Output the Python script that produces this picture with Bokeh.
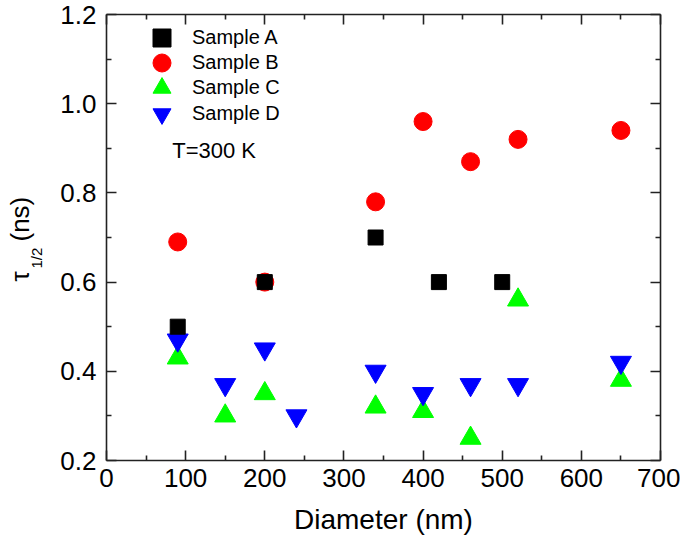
import math
from bokeh.plotting import figure
from bokeh.models import (Range1d, LinearAxis, Legend, LegendItem, Label,
                          FixedTicker, PrintfTickFormatter, CustomLabelingPolicy)
from bokeh.embed import file_html
from bokeh.resources import INLINE

# ---- data ----
a_x = [90, 200, 340, 420, 500]
a_y = [0.50, 0.60, 0.70, 0.60, 0.60]
b_x = [90, 200, 340, 400, 460, 520, 650]
b_y = [0.69, 0.60, 0.78, 0.96, 0.87, 0.92, 0.94]
c_x = [90, 150, 200, 340, 400, 460, 520, 650]
c_y = [0.43, 0.30, 0.35, 0.32, 0.31, 0.25, 0.56, 0.38]
d_x = [90, 150, 200, 240, 340, 400, 460, 520, 650]
d_y = [0.47, 0.37, 0.45, 0.30, 0.40, 0.35, 0.37, 0.37, 0.42]
series_names = ["Sample A", "Sample B", "Sample C", "Sample D"]
x_ticks = [0, 100, 200, 300, 400, 500, 600, 700]
y_ticks = [0.2, 0.4, 0.6, 0.8, 1.0, 1.2]
x_minor = [t + 50 for t in x_ticks[:-1]]
y_minor = [round(t + 0.1, 2) for t in y_ticks[:-1]]

FONT = "Liberation Sans"

# The drawing frame covers the whole canvas; the four axes are pinned at the
# data limits (fixed_location) so that titles and labels outside the box are
# not clipped.
X0, X1 = x_ticks[0], x_ticks[-1]
Y0, Y1 = y_ticks[0], y_ticks[-1]
W, H = 680, 538                 # canvas (= frame) size
BOX_L, BOX_R, BOX_T, BOX_B = 106, 660, 14, 460   # axes box in pixels
sx_ = (BOX_R - BOX_L) / (X1 - X0)
sy_ = (BOX_B - BOX_T) / (Y1 - Y0)
x_range = Range1d(X0 - BOX_L / sx_, X1 + (W - BOX_R) / sx_)
y_range = Range1d(Y0 - (H - BOX_B) / sy_, Y1 + BOX_T / sy_)

p = figure(frame_width=W, frame_height=H, x_range=x_range, y_range=y_range,
           output_backend="svg", toolbar_location=None,
           min_border_left=0, min_border_right=0, min_border_top=0,
           min_border_bottom=0, x_axis_label="Diameter (nm)")
p.grid.visible = False
p.outline_line_color = None
p.background_fill_color = "white"
p.border_fill_color = "white"

no_labels = CustomLabelingPolicy(
    code="for (let i = 0; i < indices.size; i++) { indices.unset(i) } return indices")
p.add_layout(LinearAxis(major_label_policy=no_labels), "above")
p.add_layout(LinearAxis(major_label_policy=no_labels), "right")

for ax in p.xaxis:
    ax.ticker = FixedTicker(ticks=x_ticks, minor_ticks=x_minor)
    ax.bounds = (X0, X1)
for ax in p.yaxis:
    ax.ticker = FixedTicker(ticks=y_ticks, minor_ticks=y_minor)
    ax.formatter = PrintfTickFormatter(format="%.1f")
    ax.bounds = (Y0, Y1)
p.below[0].fixed_location = Y0
p.above[0].fixed_location = Y1
p.left[0].fixed_location = X0
p.right[0].fixed_location = X1

for ax in p.axis:
    ax.axis_line_width = 1.6
    ax.axis_line_color = "#222222"
    ax.major_tick_in = 10
    ax.major_tick_out = 0
    ax.minor_tick_in = 5
    ax.minor_tick_out = 0
    ax.major_tick_line_width = 1.6
    ax.minor_tick_line_width = 1.6
    ax.major_tick_line_color = "#222222"
    ax.minor_tick_line_color = "#222222"
    ax.major_label_text_font = FONT
    ax.major_label_text_font_size = "26px"
    ax.major_label_text_color = "black"
    ax.axis_label_text_font = FONT
    ax.axis_label_text_font_size = "28px"
    ax.axis_label_text_font_style = "normal"
    ax.axis_label_text_color = "black"

p.below[0].major_label_standoff = 8
p.below[0].axis_label_standoff = 14
p.left[0].major_label_standoff = 10
for ax in (p.above[0], p.right[0]):
    ax.major_label_text_font_size = "1px"
    ax.major_label_standoff = 0

rb = p.scatter(b_x, b_y, marker="circle", size=18, color="#FF0000")
rc = p.scatter(c_x, c_y, marker="triangle", size=21, color="#00FF00")
rd = p.scatter(d_x, d_y, marker="inverted_triangle", size=21, color="#0000FF")
ra = p.scatter(a_x, a_y, marker="square", size=15, color="#000000")

# one legend per entry so rows can be closer than the glyph box
legend_rows = [(series_names[0], ra, 478), (series_names[1], rb, 453),
               (series_names[2], rc, 428), (series_names[3], rd, 402)]
for name, rend, vy in legend_rows:
    p.add_layout(Legend(items=[LegendItem(label=name, renderers=[rend])],
                        location=(BOX_L + 33, vy), glyph_width=45, glyph_height=45,
                        padding=0, margin=0, label_standoff=8,
                        label_text_font=FONT, label_text_font_size="20px",
                        label_text_color="black",
                        border_line_color=None, background_fill_alpha=0))

p.add_layout(Label(x=83, y=0.895, text="T=300 K", text_font=FONT,
                   text_font_size="22px", text_baseline="middle",
                   text_color="black"))

# y-axis title: tau with subscript 1/2, rotated (screen px from frame bottom-left)
ylab = [("τ", 19, 257, "26px"), ("1/2", 36, 270, "15px"), ("(ns)", 19, 297, "26px")]
for txt, px, py, fs in ylab:
    p.add_layout(Label(x=px, y=py, x_units="screen", y_units="screen",
                       text=txt, angle=math.pi / 2,
                       text_font=FONT, text_font_size=fs,
                       text_align="left", text_baseline="alphabetic",
                       text_color="black"))

open("out.html", "w").write(file_html(p, INLINE))
